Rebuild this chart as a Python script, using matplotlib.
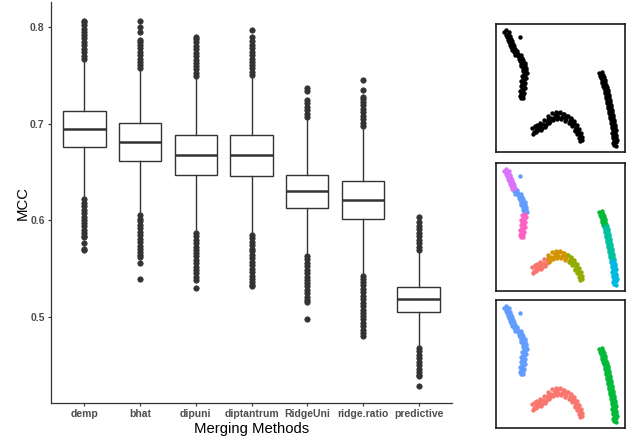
import matplotlib
matplotlib.use("Agg")
import matplotlib.pyplot as plt

plt.rcParams["font.family"] = ["Liberation Sans", "DejaVu Sans"]

# ---- boxplot data (MCC per merging method) ----
methods = ["demp", "bhat", "dipuni", "diptantrum", "RidgeUni", "ridge.ratio", "predictive"]
q1 = [0.6759, 0.6619, 0.6474, 0.6464, 0.6124, 0.6013, 0.5052]
med = [0.6948, 0.6814, 0.6680, 0.6673, 0.6302, 0.6213, 0.5186]
q3 = [0.7127, 0.7003, 0.6882, 0.6880, 0.6474, 0.6412, 0.5316]
whislo = [0.6227, 0.6065, 0.5876, 0.5856, 0.5632, 0.5436, 0.4680]
whishi = [0.7660, 0.7560, 0.7488, 0.7498, 0.7068, 0.6982, 0.5694]

fliers = [
    # demp
    [0.767, 0.770, 0.774, 0.777, 0.781, 0.784, 0.788, 0.791, 0.795, 0.798, 0.802, 0.805, 0.806,
     0.622, 0.618, 0.615, 0.611, 0.608, 0.604, 0.601, 0.597, 0.594, 0.590, 0.587, 0.584, 0.583,
     0.577, 0.571, 0.570],
    # bhat
    [0.757, 0.760, 0.764, 0.767, 0.771, 0.774, 0.778, 0.781, 0.784, 0.786, 0.795, 0.800, 0.806,
     0.606, 0.602, 0.599, 0.595, 0.592, 0.588, 0.585, 0.581, 0.578, 0.574, 0.571, 0.567, 0.564,
     0.5625, 0.556, 0.540],
    # dipuni
    [0.749, 0.752, 0.756, 0.759, 0.763, 0.766, 0.770, 0.773, 0.777, 0.780, 0.784, 0.787, 0.789,
     0.587, 0.584, 0.580, 0.577, 0.573, 0.570, 0.566, 0.563, 0.559, 0.556, 0.552, 0.549, 0.546,
     0.542, 0.5385, 0.5305],
    # diptantrum
    [0.750, 0.753, 0.757, 0.760, 0.764, 0.767, 0.771, 0.774, 0.778, 0.781, 0.785, 0.789, 0.797,
     0.585, 0.582, 0.578, 0.575, 0.571, 0.568, 0.564, 0.561, 0.557, 0.554, 0.550, 0.547, 0.543,
     0.540, 0.536, 0.533, 0.532],
    # RidgeUni
    [0.707, 0.710, 0.714, 0.717, 0.721, 0.724, 0.734, 0.737,
     0.563, 0.560, 0.556, 0.553, 0.549, 0.546, 0.542, 0.539, 0.535, 0.532, 0.528, 0.525, 0.521,
     0.518, 0.516, 0.498],
    # ridge.ratio
    [0.698, 0.701, 0.705, 0.708, 0.712, 0.715, 0.719, 0.722, 0.725, 0.727, 0.735, 0.745,
     0.543, 0.540, 0.536, 0.533, 0.529, 0.526, 0.522, 0.519, 0.515, 0.512, 0.508, 0.505, 0.501,
     0.498, 0.494, 0.491, 0.487, 0.484, 0.481],
    # predictive
    [0.570, 0.573, 0.577, 0.580, 0.584, 0.587, 0.591, 0.594, 0.598, 0.604,
     0.468, 0.465, 0.461, 0.458, 0.454, 0.451, 0.447, 0.444, 0.440, 0.439, 0.4295],
]

# ---- scatter data for the small panels (panel pixel coords, y down) ----
# left arm
c_violet = [(8, 8), (10, 6), (12, 10), (13, 8), (10, 11), (11, 13), (14, 12), (12, 16), (15, 15),
            (13, 14), (13, 18), (16, 17), (14, 21), (17, 20), (15, 19), (15, 23), (18, 22),
            (16, 26), (19, 25)]
c_blue = [(24, 13), (18, 28), (21, 27), (19, 31), (22, 30), (20, 29), (22, 32), (25, 31), (23, 35),
          (26, 34), (24, 33), (24, 37), (27, 36), (25, 40), (29, 39), (26, 38), (25, 42), (29, 41),
          (27, 45), (30, 44), (28, 43), (27, 47), (30, 46), (28, 50), (31, 49), (29, 48)]
c_pink = [(26, 52), (29, 51), (27, 55), (30, 54), (25, 57), (28, 56), (26, 60), (29, 59), (27, 58),
          (25, 62), (28, 61), (26, 65), (29, 64), (24, 67), (27, 66), (25, 70), (28, 69), (26, 68),
          (24, 72), (27, 71), (25, 74), (27, 74)]
# bottom arc
c_salmon = [(36, 104), (38, 108), (40, 105), (37, 110), (39, 102), (41, 101), (42, 106), (40, 108),
            (43, 103), (44, 99), (46, 104), (45, 106), (47, 100), (44, 102), (48, 96), (50, 101),
            (49, 103), (51, 98)]
c_gold = [(52, 92), (54, 97), (53, 99), (55, 94), (52, 95), (56, 89), (58, 94), (57, 96), (59, 91),
          (60, 88), (62, 93), (61, 95), (63, 89), (60, 91), (64, 88), (66, 93), (65, 95), (67, 90),
          (68, 90), (70, 95), (69, 97), (71, 92), (68, 93)]
c_olive = [(72, 92), (74, 97), (73, 99), (75, 94), (75, 95), (77, 100), (76, 102), (78, 97), (74, 99),
           (78, 99), (80, 104), (79, 106), (81, 101), (80, 103), (82, 108), (81, 110), (83, 105),
           (79, 107), (82, 107), (84, 112), (83, 114), (85, 109), (84, 111), (86, 116), (84, 117),
           (86, 113)]
# right arm
c_green = [(103, 49), (106, 48), (104, 52), (107, 51), (105, 50), (105, 54), (108, 53), (106, 57),
           (109, 56), (106, 59), (109, 58), (107, 62), (110, 61), (108, 60)]
c_teal = [(108, 64), (111, 63), (109, 67), (112, 66), (109, 69), (112, 68), (110, 72), (113, 71),
          (111, 70), (110, 74), (113, 73), (111, 77), (114, 76), (111, 79), (114, 78), (112, 82),
          (115, 81), (113, 80), (112, 84), (115, 83), (113, 87), (116, 86), (113, 89), (116, 88),
          (114, 92), (117, 91), (115, 90), (114, 94), (117, 93), (115, 96), (118, 96)]
c_cyan = [(115, 99), (118, 98), (116, 102), (119, 101), (117, 100), (116, 104), (119, 103),
          (117, 107), (120, 106), (116, 109), (119, 108), (117, 112), (120, 111), (118, 110),
          (117, 114), (120, 113), (118, 117), (121, 116), (117, 119), (120, 118), (118, 121),
          (120, 122)]

clusters9 = [c_salmon, c_gold, c_olive, c_green, c_teal, c_cyan, c_blue, c_violet, c_pink]
colors9 = ["#F8766D", "#D39200", "#93AA00", "#00BA38", "#00C19F", "#00B9E3", "#619CFF", "#DB72FB", "#FF61C3"]
clusters3 = [c_salmon + c_gold + c_olive, c_green + c_teal + c_cyan, c_violet + c_blue + c_pink]
colors3 = ["#F8766D", "#00BA38", "#619CFF"]

fig = plt.figure(figsize=(6.38, 4.38), dpi=100)
fig.patch.set_facecolor("white")

# ---- main boxplot ----
ax = fig.add_axes([51 / 638, 35 / 438, 401 / 638, 401 / 438])
stats = []
for i in range(len(methods)):
    stats.append(dict(q1=q1[i], med=med[i], q3=q3[i], whislo=whislo[i], whishi=whishi[i],
                      fliers=fliers[i], label=methods[i]))
ax.bxp(stats, positions=range(1, 8), widths=0.76, patch_artist=True, showcaps=False,
       boxprops=dict(facecolor="white", edgecolor="#333333", linewidth=1.0),
       medianprops=dict(color="#333333", linewidth=1.8),
       whiskerprops=dict(color="#333333", linewidth=1.0),
       flierprops=dict(marker="o", markersize=3.9, markerfacecolor="#333333",
                       markeredgecolor="#333333", markeredgewidth=0.5))
ax.set_xlim(0.4, 7.6)
ax.set_ylim(0.4116, 0.8255)
ax.set_yticks([0.5, 0.6, 0.7, 0.8])
ax.set_yticklabels(["0.5", "0.6", "0.7", "0.8"])
ax.set_xticks(range(1, 8))
ax.set_xticklabels(methods)
for s in ["top", "right"]:
    ax.spines[s].set_visible(False)
for s in ["left", "bottom"]:
    ax.spines[s].set_color("#333333")
    ax.spines[s].set_linewidth(0.9)
ax.tick_params(axis="both", length=2.5, width=0.8, color="#333333",
               labelsize=7.5, labelcolor="#4D4D4D", pad=2)
for lab in ax.get_xticklabels() + ax.get_yticklabels():
    lab.set_fontweight("bold")
ax.set_xlabel("Merging Methods", fontsize=10.7, labelpad=2)
ax.set_ylabel("MCC", fontsize=10.7, labelpad=0)

# ---- small cluster panels ----
panel_tops = [24, 163, 300]
panel_axes = []
for top in panel_tops:
    pa = fig.add_axes([496 / 638, (438 - top - 128) / 438, 129 / 638, 128 / 438])
    pa.set_xlim(0, 129)
    pa.set_ylim(128, 0)
    pa.set_xticks([])
    pa.set_yticks([])
    for s in pa.spines.values():
        s.set_color("#1a1a1a")
        s.set_linewidth(1.2)
    panel_axes.append(pa)

for pts in clusters9:
    panel_axes[0].scatter([p[0] for p in pts], [p[1] for p in pts], s=10, c="black", linewidths=0)
for pts, col in zip(clusters9, colors9):
    panel_axes[1].scatter([p[0] for p in pts], [p[1] for p in pts], s=10, c=col, linewidths=0)
for pts, col in zip(clusters3, colors3):
    panel_axes[2].scatter([p[0] for p in pts], [p[1] for p in pts], s=10, c=col, linewidths=0)

fig.savefig("out.png", dpi=100)
